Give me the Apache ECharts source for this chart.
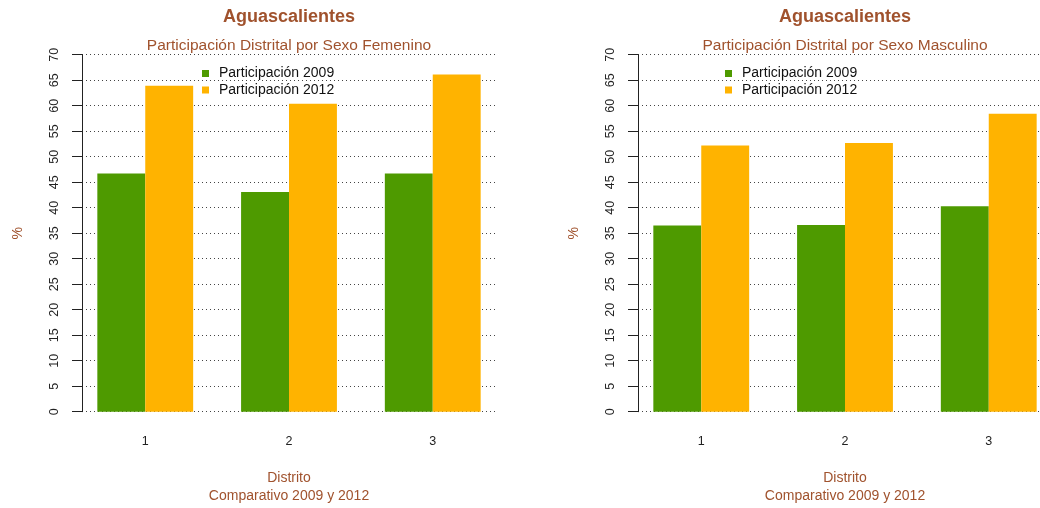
<!DOCTYPE html>
<html>
<head>
<meta charset="utf-8">
<script src="https://cdn.jsdelivr.net/npm/echarts@6/dist/echarts.min.js"></script>
<style>
html,body{margin:0;padding:0;background:#fff;}
#chart{width:1040px;height:508px;}
</style>
</head>
<body>
<div id="chart"></div>
<script>
// ---- data ----
const categories = [1, 2, 3];
const seriesNames = ['Participación 2009', 'Participación 2012'];
const fem2009 = [46.7, 43.1, 46.7];
const fem2012 = [63.9, 60.4, 66.1];
const mas2009 = [36.5, 36.6, 40.3];
const mas2012 = [52.2, 52.7, 58.4];
const yMin = 0, yMax = 70, yStep = 5;
const mainTitle = 'Aguascalientes';
const subTitles = ['Participación Distrital por Sexo Femenino', 'Participación Distrital por Sexo Masculino'];
const xName = 'Distrito';
const xSub = 'Comparativo 2009 y 2012';
const yName = '%';

// ---- layout ----
const FONT = '"Liberation Sans", Arial, Helvetica, sans-serif';
const BROWN = '#A0522D';
const GREEN = '#4E9A00';
const ORANGE = '#FFB300';
const xMin = 0.56, xSpan = 2.88;      // R-style padded x range (in category units)
const fullWidth = 414;                 // full plot width of one panel
const catPx = fullWidth / xSpan;       // px per category unit
const panels = [
  {left: 82, width: 414, d1: fem2009, d2: fem2012, sub: subTitles[0], legendLeft: 197},
  {left: 638, width: 1040 - 638, d1: mas2009, d2: mas2012, sub: subTitles[1], legendLeft: 720}
];
const gridTop = 54.7, gridBottomY = 411.7;

const chart = echarts.init(document.getElementById('chart'), null, {renderer: 'canvas'});
const option = {
  animation: false,
  backgroundColor: '#fff',
  textStyle: {fontFamily: FONT},
  title: [], grid: [], xAxis: [], yAxis: [], series: [], legend: []
};

function ttl(text, cx, top, size, weight) {
  return {text: text, left: cx, top: top, textAlign: 'center', padding: 0,
          textStyle: {fontFamily: FONT, fontSize: size, fontWeight: weight, color: BROWN}};
}

panels.forEach((p, k) => {
  const cx = p.left + fullWidth / 2;
  option.title.push(
    ttl(mainTitle, cx, 8, 18, 'bold'),
    ttl(p.sub, cx, 38, 15.5, 'normal'),
    ttl(xName, cx, 471, 14, 'normal'),
    ttl(xSub, cx, 489, 14, 'normal')
  );
  option.grid.push({left: p.left, top: gridTop, width: p.width, height: gridBottomY - gridTop, containLabel: false});
  option.xAxis.push({
    type: 'value', gridIndex: k, min: xMin, max: xMin + p.width / catPx,
    axisLine: {show: false}, axisTick: {show: false}, splitLine: {show: false},
    axisLabel: {
      margin: 23, fontSize: 12.5, color: '#222', fontFamily: FONT,
      showMinLabel: false, showMaxLabel: false,
      formatter: v => categories.indexOf(v) >= 0 ? String(v) : ''
    }
  });
  option.yAxis.push({
    type: 'value', gridIndex: k, min: yMin, max: yMax, interval: yStep,
    name: yName, nameLocation: 'middle', nameGap: 57, nameRotate: 90,
    nameTextStyle: {color: BROWN, fontSize: 14, fontFamily: FONT},
    axisLine: {show: true, lineStyle: {color: '#222', width: 1}},
    axisTick: {show: true, length: 10, lineStyle: {color: '#222'}},
    axisLabel: {rotate: 90, margin: 21, fontSize: 12.5, color: '#222', fontFamily: FONT},
    splitLine: {show: true, lineStyle: {color: '#444', width: 1, type: [1, 3]}}
  });
  [p.d1, p.d2].forEach((arr, j) => {
    option.series.push({
      name: seriesNames[j], type: 'bar', xAxisIndex: k, yAxisIndex: k,
      barWidth: catPx / 3, barGap: '0%',
      itemStyle: {color: j === 0 ? GREEN : ORANGE},
      data: categories.map((c, i) => [c, arr[i]])
    });
  });
  option.legend.push({
    left: p.legendLeft, top: 61.5, orient: 'vertical', icon: 'rect',
    itemWidth: 7, itemHeight: 7, itemGap: 2.5,
    selectedMode: false,
    textStyle: {fontFamily: FONT, fontSize: 14, color: '#111', padding: [0, 0, 0, 5]},
    data: [
      {name: seriesNames[0], itemStyle: {color: GREEN}},
      {name: seriesNames[1], itemStyle: {color: ORANGE}}
    ]
  });
});

chart.setOption(option);
</script>
</body>
</html>
